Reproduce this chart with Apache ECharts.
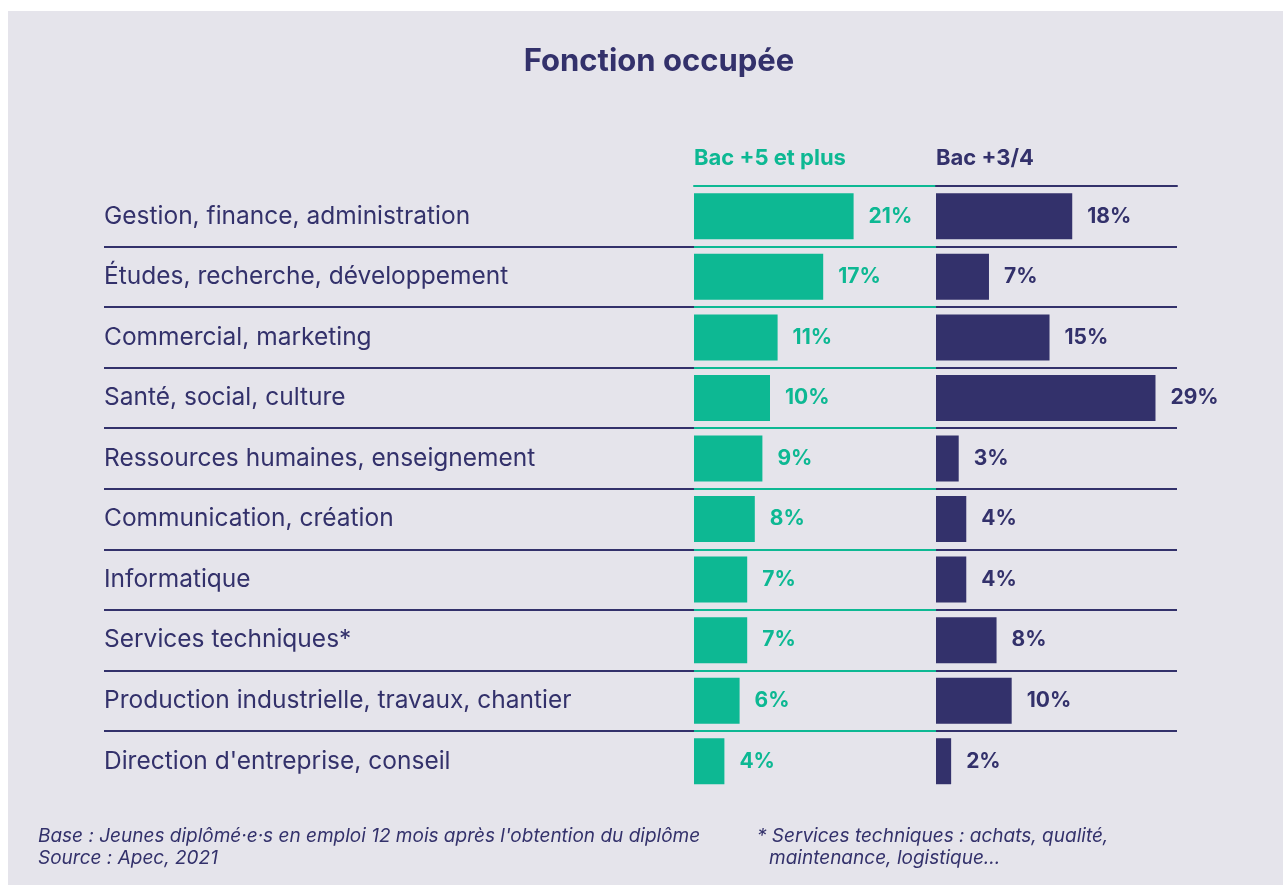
<!DOCTYPE html>
<html>
<head>
<meta charset="utf-8">
<script src="https://cdn.jsdelivr.net/npm/echarts@6/dist/echarts.min.js"></script>
<style>
html,body{margin:0;padding:0;background:#ffffff;}
#wrap{position:absolute;left:8px;top:11px;width:1275px;height:874px;background:#e5e4eb;}
#chart{position:absolute;left:0;top:0;width:1283px;height:885px;}
</style>
</head>
<body>
<div id="wrap"></div>
<div id="chart"></div>
<script>
const categories = [
  "Gestion, finance, administration",
  "Études, recherche, développement",
  "Commercial, marketing",
  "Santé, social, culture",
  "Ressources humaines, enseignement",
  "Communication, création",
  "Informatique",
  "Services techniques*",
  "Production industrielle, travaux, chantier",
  "Direction d'entreprise, conseil"
];
const seriesNames = ["Bac +5 et plus", "Bac +3/4"];
const bac5 = [21, 17, 11, 10, 9, 8, 7, 7, 6, 4];
const bac34 = [18, 7, 15, 29, 3, 4, 4, 8, 10, 2];

const TEAL = "#0db893";
const NAVY = "#33316b";
const FONT = "Inter, 'Noto Sans', sans-serif";

const chart = echarts.init(document.getElementById('chart'), null, {renderer: 'canvas'});
const gridTop = 186, gridH = 605.5;
const pxPerPct = 7.6;

function valueX(gi, name, color) {
  return {
    type: 'value', gridIndex: gi, position: 'top', min: 0, max: 242 / pxPerPct,
    axisLabel: {show: false}, axisTick: {show: false}, splitLine: {show: false},
    axisLine: {show: !!name, lineStyle: {color: color, width: 2}},
    name: name || '', nameLocation: 'start', nameGap: 0,
    nameTextStyle: {color: color, fontFamily: FONT, fontWeight: 'bold', fontSize: 22,
      align: 'left', verticalAlign: 'bottom', padding: [0, 0, 17, 0]}
  };
}
function catY(gi, color, showLabels) {
  return {
    type: 'category', gridIndex: gi, inverse: true, data: categories,
    axisLine: {show: false}, axisTick: {show: false},
    axisLabel: {show: showLabels, inside: true, margin: 0, color: NAVY,
      fontFamily: FONT, fontSize: 24.5, verticalAlign: 'middle', padding: [0, 0, 6, 0]},
    splitLine: {show: true, showMinLine: false, showMaxLine: false,
      lineStyle: {color: color, width: 2}}
  };
}
function barSeries(gi, name, data, color) {
  return {
    type: 'bar', name: name, xAxisIndex: gi, yAxisIndex: gi, data: data,
    barWidth: 46, itemStyle: {color: color}, silent: true,
    label: {show: true, position: 'right', distance: 15, formatter: '{c}%',
      color: color, fontFamily: FONT, fontWeight: 'bold', fontSize: 21}
  };
}

chart.setOption({
  animation: false,
  backgroundColor: 'transparent',
  title: {text: 'Fonction occupée', left: 654, textAlign: 'center', top: 41,
    textStyle: {color: NAVY, fontFamily: FONT, fontWeight: 'bold', fontSize: 31}},
  grid: [
    {left: 104, top: gridTop, width: 590, height: gridH},
    {left: 694, top: gridTop, width: 242, height: gridH},
    {left: 936, top: gridTop, width: 241, height: gridH}
  ],
  xAxis: [
    {type: 'value', gridIndex: 0, min: 0, max: 1, show: false},
    valueX(1, seriesNames[0], TEAL),
    valueX(2, seriesNames[1], NAVY)
  ],
  yAxis: [
    catY(0, NAVY, true),
    catY(1, TEAL, false),
    catY(2, NAVY, false)
  ],
  series: [
    barSeries(1, seriesNames[0], bac5, TEAL),
    barSeries(2, seriesNames[1], bac34, NAVY)
  ],
  graphic: [
    {type: 'text', left: 38, top: 825, style: {
      text: "Base : Jeunes diplômé·e·s en emploi 12 mois après l'obtention du diplôme\nSource : Apec, 2021",
      fill: NAVY, font: "italic 19px " + FONT, lineHeight: 22}},
    {type: 'text', left: 757, top: 825, style: {
      text: "* Services techniques : achats, qualité,",
      fill: NAVY, font: "italic 19px " + FONT, lineHeight: 22}},
    {type: 'text', left: 769, top: 847, style: {
      text: "maintenance, logistique...",
      fill: NAVY, font: "italic 19px " + FONT, lineHeight: 22}}
  ]
});
</script>
</body>
</html>
